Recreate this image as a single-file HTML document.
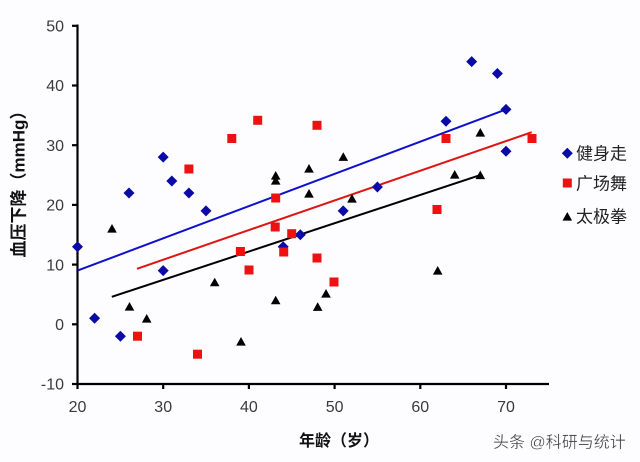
<!DOCTYPE html>
<html><head><meta charset="utf-8"><style>
html,body{margin:0;padding:0;background:#fdfcfe;}
svg{display:block;}
</style></head><body>
<svg width="640" height="462" viewBox="0 0 640 462" xmlns="http://www.w3.org/2000/svg">
<rect width="640" height="462" fill="#fdfcfe"/>
<defs>
<path id="d" d="M0,-5.5 L5.5,0 L0,5.5 L-5.5,0 Z" fill="#0a0aa6"/>
<rect id="s" x="-4.5" y="-4.5" width="9" height="9" fill="#ee1111"/>
<path id="t" d="M0,-5 L4.8,3.6 L-4.8,3.6 Z" fill="#000"/>
</defs>
<!-- axes -->
<g stroke="#000" stroke-width="2.2" fill="none">
<line x1="77.5" y1="24.5" x2="77.5" y2="385"/>
<line x1="76.5" y1="384" x2="549" y2="384"/>
<line x1="72" y1="25.8" x2="77.5" y2="25.8"/>
<line x1="72" y1="85.5" x2="77.5" y2="85.5"/>
<line x1="72" y1="145.2" x2="77.5" y2="145.2"/>
<line x1="72" y1="204.9" x2="77.5" y2="204.9"/>
<line x1="72" y1="264.6" x2="77.5" y2="264.6"/>
<line x1="72" y1="324.3" x2="77.5" y2="324.3"/>
<line x1="72" y1="384" x2="77.5" y2="384"/>
<line x1="77.5" y1="384" x2="77.5" y2="389"/>
<line x1="163.2" y1="384" x2="163.2" y2="389"/>
<line x1="248.9" y1="384" x2="248.9" y2="389"/>
<line x1="334.6" y1="384" x2="334.6" y2="389"/>
<line x1="420.3" y1="384" x2="420.3" y2="389"/>
<line x1="506" y1="384" x2="506" y2="389"/>
</g>
<g font-family="Liberation Sans, sans-serif" font-size="16" fill="#3a3a3a" text-anchor="end">
<text x="64" y="31.5">50</text>
<text x="64" y="91.2">40</text>
<text x="64" y="150.9">30</text>
<text x="64" y="210.6">20</text>
<text x="64" y="270.3">10</text>
<text x="64" y="330">0</text>
<text x="64" y="389.7">-10</text>
</g>
<g font-family="Liberation Sans, sans-serif" font-size="16" fill="#3a3a3a" text-anchor="middle">
<text x="77.5" y="412">20</text>
<text x="163.2" y="412">30</text>
<text x="248.9" y="412">40</text>
<text x="334.6" y="412">50</text>
<text x="420.3" y="412">60</text>
<text x="506" y="412">70</text>
</g>
<text transform="translate(24.5,180) rotate(-90)" text-anchor="middle" font-family="Liberation Sans, Noto Sans CJK SC, sans-serif" font-size="17" font-weight="bold" fill="#111">血压下降（mmHg）</text>
<text x="299" y="446" font-family="Liberation Sans, Noto Sans CJK SC, sans-serif" font-size="16" font-weight="bold" fill="#111">年龄（岁）</text>
<!-- trend lines -->
<line x1="77.5" y1="270.6" x2="506" y2="109.4" stroke="#1010cc" stroke-width="2"/>
<line x1="137" y1="268.8" x2="531.7" y2="132.2" stroke="#dd1515" stroke-width="2"/>
<line x1="111.8" y1="296.8" x2="480.3" y2="175.1" stroke="#000" stroke-width="2"/>
<!-- blue diamonds -->
<g>
<use href="#d" x="77.5" y="246.7"/>
<use href="#d" x="94.6" y="318.3"/>
<use href="#d" x="120.4" y="336.2"/>
<use href="#d" x="129" y="193"/>
<use href="#d" x="163.2" y="157.1"/>
<use href="#d" x="163.2" y="270.6"/>
<use href="#d" x="171.8" y="181"/>
<use href="#d" x="188.9" y="193"/>
<use href="#d" x="206" y="210.9"/>
<use href="#d" x="283.2" y="246.7"/>
<use href="#d" x="300.3" y="234.7"/>
<use href="#d" x="343.2" y="210.9"/>
<use href="#d" x="377.4" y="187"/>
<use href="#d" x="446" y="121.3"/>
<use href="#d" x="471.7" y="61.6"/>
<use href="#d" x="497.4" y="73.5"/>
<use href="#d" x="506" y="109.4"/>
<use href="#d" x="506" y="151.2"/>
</g>
<!-- red squares -->
<g>
<use href="#s" x="137.5" y="336.2"/>
<use href="#s" x="188.9" y="169"/>
<use href="#s" x="197.5" y="354.2"/>
<use href="#s" x="231.8" y="138.5"/>
<use href="#s" x="240.4" y="251.5"/>
<use href="#s" x="249" y="270"/>
<use href="#s" x="257.7" y="120.3"/>
<use href="#s" x="275.7" y="198"/>
<use href="#s" x="275.2" y="227"/>
<use href="#s" x="283.7" y="252"/>
<use href="#s" x="291.7" y="233.7"/>
<use href="#s" x="317" y="125.3"/>
<use href="#s" x="317" y="258"/>
<use href="#s" x="334" y="282"/>
<use href="#s" x="437" y="209.5"/>
<use href="#s" x="446" y="138.5"/>
<use href="#s" x="532" y="138.5"/>
</g>
<!-- black triangles -->
<g>
<use href="#t" x="112" y="229"/>
<use href="#t" x="129.5" y="307"/>
<use href="#t" x="146.7" y="319"/>
<use href="#t" x="214.7" y="282.7"/>
<use href="#t" x="241" y="342"/>
<use href="#t" x="275.7" y="176"/>
<use href="#t" x="275.7" y="181"/>
<use href="#t" x="275.7" y="300.7"/>
<use href="#t" x="309" y="169"/>
<use href="#t" x="309" y="194"/>
<use href="#t" x="317.7" y="307.3"/>
<use href="#t" x="326" y="294"/>
<use href="#t" x="343.3" y="157.3"/>
<use href="#t" x="352" y="199"/>
<use href="#t" x="437.7" y="271"/>
<use href="#t" x="454.7" y="175"/>
<use href="#t" x="480.3" y="133"/>
<use href="#t" x="480.3" y="175.5"/>
</g>
<!-- legend -->
<use href="#d" x="567.3" y="153.3"/>
<use href="#s" x="567.3" y="183"/>
<use href="#t" x="567.3" y="217"/>
<g font-family="Liberation Sans, Noto Sans CJK SC, sans-serif" font-size="17" fill="#222">
<text x="576" y="159.5">健身走</text>
<text x="576" y="189.5">广场舞</text>
<text x="576" y="222.5">太极拳</text>
</g>
<text x="493" y="447.5" font-family="Liberation Sans, Noto Sans CJK SC, sans-serif" font-size="16" fill="#3a3a3a" stroke="#fff" stroke-width="0.3">头条 @科研与统计</text>
</svg>
</body></html>
